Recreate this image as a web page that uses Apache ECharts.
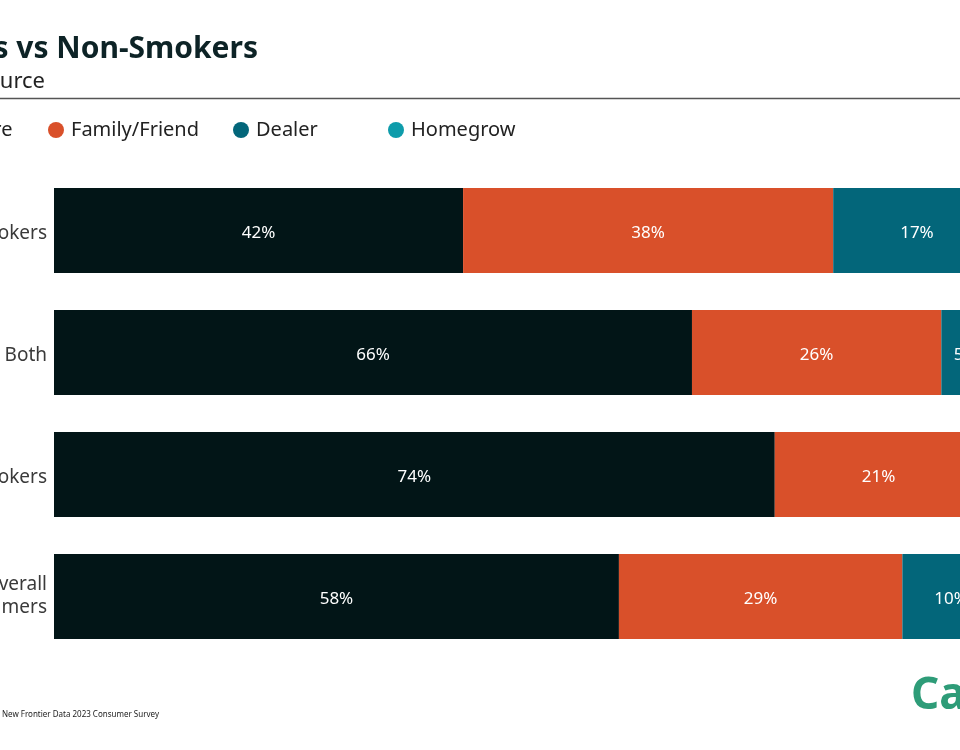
<!DOCTYPE html>
<html>
<head>
<meta charset="utf-8">
<script src="https://cdn.jsdelivr.net/npm/echarts@6/dist/echarts.min.js"></script>
<style>html,body{margin:0;padding:0;background:#fff}#c{width:960px;height:750px}</style>
</head>
<body>
<div id="c"></div>
<script>
const categories = ['Smokers', 'Both', 'Non-Smokers', 'Overall\nConsumers'];
const seriesNames = ['Store', 'Family/Friend', 'Dealer', 'Homegrow'];
const storeVals = [42.0, 65.5, 74.0, 58.0];
const familyVals = [38.0, 25.6, 21.3, 29.1];
const dealerVals = [17.2, 5.0, 3.0, 10.0];
const homegrowVals = [2.8, 3.9, 1.7, 2.9];
const titleText = 'Smokers vs Non-Smokers';
const subtitleText = 'Purchase Source';
const sourceText = 'Source: New Frontier Data 2023 Consumer Survey';

const colors = ['#021517', '#D9502A', '#03667A', '#0E9CAB'];
const FONT = '"Noto Sans", "Open Sans", sans-serif';
const chart = echarts.init(document.getElementById('c'), null, {renderer: 'canvas'});

const allVals = [storeVals, familyVals, dealerVals, homegrowVals];
const legendLefts = [-60, 48, 233, 388];

const option = {
  backgroundColor: '#fff',
  animation: false,
  color: colors,
  grid: {left: 54, width: 974, top: 169.5, height: 488, containLabel: false, outerBoundsMode: 'none'},
  xAxis: {type: 'value', min: 0, max: 100, show: false},
  yAxis: {
    type: 'category', data: categories, inverse: true,
    axisLine: {show: false}, axisTick: {show: false}, splitLine: {show: false},
    axisLabel: {
      margin: 7, fontSize: 19, color: '#3a3a3a', fontFamily: FONT, lineHeight: 23,
      formatter: v => v.indexOf('\n') >= 0 ? v : '{a|' + v + '}',
      rich: {a: {fontSize: 19, color: '#3a3a3a', fontFamily: FONT, lineHeight: 23, padding: [6, 0, 0, 0]}}
    }
  },
  legend: seriesNames.map((n, i) => ({
    data: [n], left: legendLefts[i], top: 120, icon: 'circle', padding: 0,
    itemWidth: 16, itemHeight: 16, itemGap: 0,
    textStyle: {fontSize: 20, color: '#222', fontFamily: FONT, lineHeight: 20, padding: [0, 0, 0, 2]}
  })),
  series: seriesNames.map((n, i) => ({
    name: n, type: 'bar', stack: 'total', barWidth: 85,
    data: allVals[i],
    itemStyle: {color: colors[i]},
    label: {
      show: true, position: 'inside', color: '#fff', fontSize: 17, fontFamily: FONT, offset: [0, 3],
      formatter: p => Math.round(p.value) + '%'
    }
  })),
  graphic: [
    {type: 'text', x: 258, y: 49, style: {text: titleText, fill: '#0d2326', font: 'bold 30px ' + FONT, align: 'right', verticalAlign: 'middle'}},
    {type: 'text', x: 45, y: 82, style: {text: subtitleText, fill: '#222', font: '22px ' + FONT, align: 'right', verticalAlign: 'middle'}},
    {type: 'line', shape: {x1: 0, y1: 98.5, x2: 960, y2: 98.5}, style: {stroke: '#555', lineWidth: 1.5}},
    {type: 'text', x: 159, y: 715, style: {text: sourceText, fill: '#222', font: '8px ' + FONT, align: 'right', verticalAlign: 'middle'}},
    {type: 'text', x: 911, y: 696, style: {text: 'Cannabis', fill: '#2E9C78', font: 'bold 44px ' + FONT, align: 'left', verticalAlign: 'middle'}}
  ]
};
chart.setOption(option);
</script>
</body>
</html>
